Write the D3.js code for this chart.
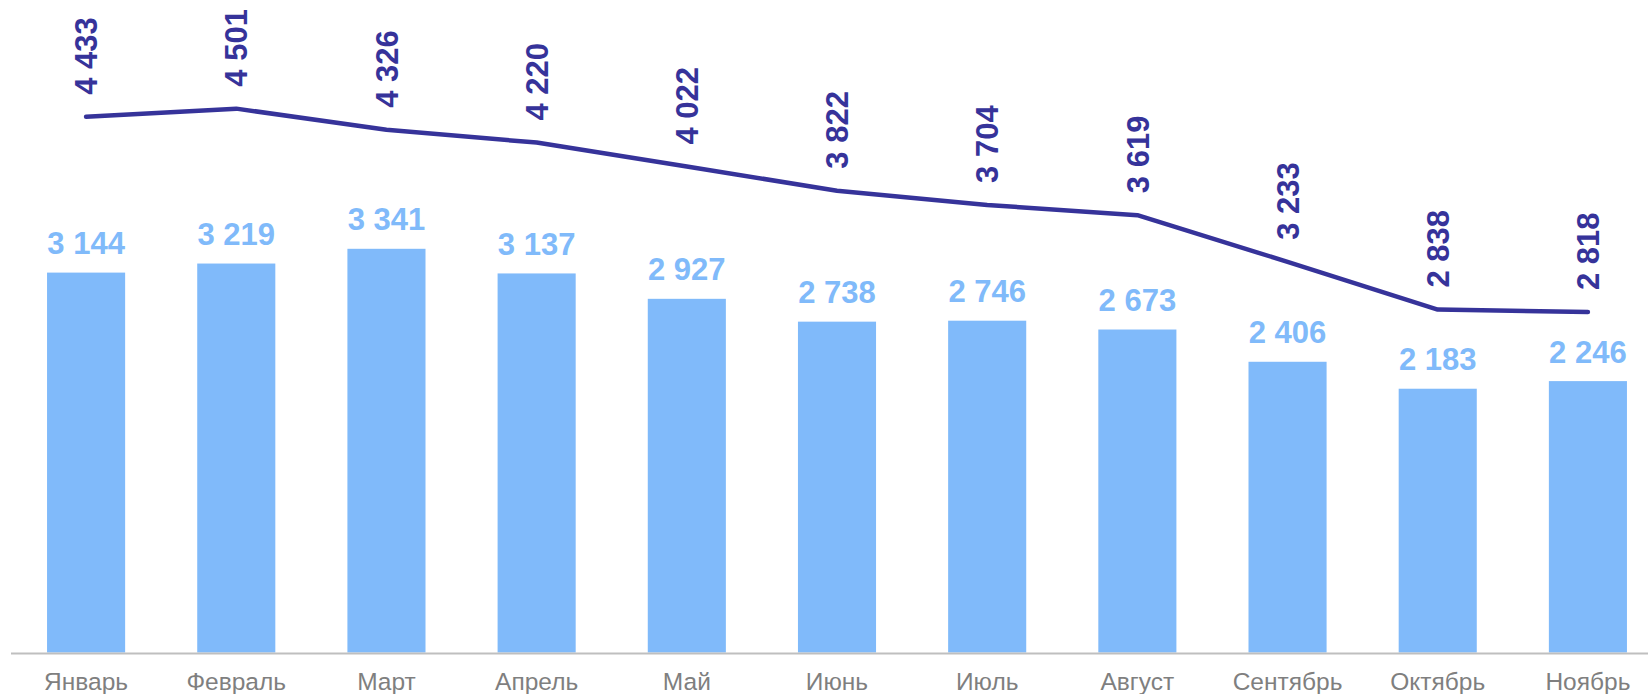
<!DOCTYPE html>
<html>
<head>
<meta charset="utf-8">
<script src="https://cdn.jsdelivr.net/npm/d3@7"></script>
<style>
  html, body { margin: 0; padding: 0; background: #ffffff; }
  svg { display: block; }
</style>
</head>
<body>
<svg id="chart" width="1648" height="694"></svg>
<script>
const categories = ["Январь", "Февраль", "Март", "Апрель", "Май", "Июнь", "Июль", "Август", "Сентябрь", "Октябрь", "Ноябрь"];
const barValues = [3144, 3219, 3341, 3137, 2927, 2738, 2746, 2673, 2406, 2183, 2246];
const lineValues = [4433, 4501, 4326, 4220, 4022, 3822, 3704, 3619, 3233, 2838, 2818];

const barColor = "#80bafa";
const lineColor = "#36339a";
const fmt = v => d3.format(",")(v).replace(/,/g, " ");

const svg = d3.select("#chart");
const baseY = 652.5;

const x = d3.scaleBand()
  .domain(categories)
  .range([11, 1663])
  .paddingInner(0.48)
  .paddingOuter(0.24);

const y = d3.scaleLinear()
  .domain([0, 5400])
  .range([baseY, 0]);

// bars
svg.append("g").selectAll("rect")
  .data(barValues)
  .join("rect")
  .attr("x", (d, i) => x(categories[i]))
  .attr("y", d => y(d))
  .attr("width", x.bandwidth())
  .attr("height", d => baseY - y(d))
  .attr("fill", barColor);

// bar labels
svg.append("g").selectAll("text")
  .data(barValues)
  .join("text")
  .attr("x", (d, i) => x(categories[i]) + x.bandwidth() / 2)
  .attr("y", d => y(d) - 18.5)
  .attr("text-anchor", "middle")
  .attr("font-family", "'Liberation Sans', Arial, sans-serif")
  .attr("font-weight", "bold")
  .attr("font-size", "31px")
  .attr("fill", barColor)
  .text(d => fmt(d));

// x axis
const xAxis = d3.axisBottom(x).tickSize(0).tickPadding(0);
const gx = svg.append("g")
  .attr("transform", `translate(0,${baseY + 1})`)
  .call(xAxis);
gx.select(".domain")
  .attr("d", "M11,0H1648")
  .attr("stroke", "#bfbfbf")
  .attr("stroke-width", 2);
gx.selectAll("text")
  .attr("y", 36)
  .attr("dy", 0)
  .attr("font-family", "'Liberation Sans', Arial, sans-serif")
  .attr("font-size", "24.5px")
  .attr("fill", "#7f7f7f");

// line
const line = d3.line()
  .x((d, i) => x(categories[i]) + x.bandwidth() / 2)
  .y(d => y(d));

svg.append("path")
  .datum(lineValues)
  .attr("d", line)
  .attr("fill", "none")
  .attr("stroke", lineColor)
  .attr("stroke-width", 4.5)
  .attr("stroke-linecap", "round")
  .attr("stroke-linejoin", "round");

// line labels (rotated)
svg.append("g").selectAll("text")
  .data(lineValues)
  .join("text")
  .attr("transform", (d, i) => `translate(${x(categories[i]) + x.bandwidth() / 2},${y(d) - 22}) rotate(-90)`)
  .attr("dy", "0.36em")
  .attr("text-anchor", "start")
  .attr("font-family", "'Liberation Sans', Arial, sans-serif")
  .attr("font-weight", "bold")
  .attr("font-size", "31px")
  .attr("fill", lineColor)
  .text(d => fmt(d));
</script>
</body>
</html>
